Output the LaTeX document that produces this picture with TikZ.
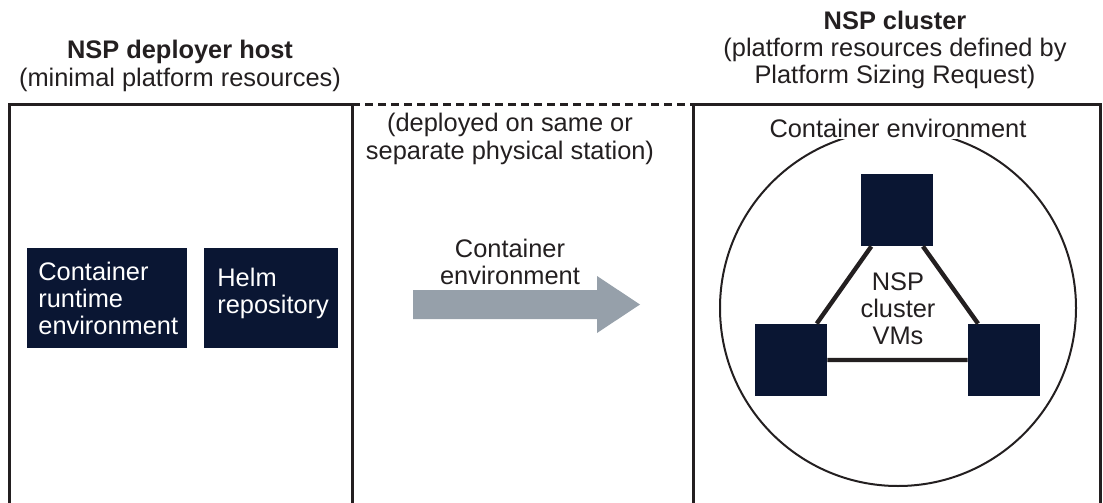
\documentclass[tikz,border=0pt]{standalone}
\usepackage{fontspec}
\setmainfont{Liberation Sans}
\usepackage{tikz}
\usetikzlibrary{positioning}
\usetikzlibrary{shapes}
\definecolor{navy}{HTML}{0A1633}
\definecolor{linegray}{HTML}{231F20}
\definecolor{arrowgray}{HTML}{96A0AA}

\begin{document}
\begin{tikzpicture}
  [x=0.5pt,y=-0.5pt,
  every node/.style={font=\fontsize{12.7}{13.6}\selectfont,text=linegray},
  label/.style={align=center,inner sep=1pt},
  darkbox/.style={rectangle,fill=navy,anchor=north west,align=left,inner xsep=6pt,inner ysep=0pt,minimum height=50pt},
  vm/.style={rectangle,fill=navy,inner sep=0pt,minimum size=36pt},
  frame/.style={linegray,line width=1.5pt}]
  \useasboundingbox (0,0) rectangle (1103,503);

  \node[label] (hosttitle) at (180,66) {\textbf{NSP deployer host}\\(minimal platform resources)};
  \node[label] (clustertitle) at (895,50) {\textbf{NSP cluster}\\(platform resources defined by\\Platform Sizing Request)};

  \draw [frame] (9,510) -- (9,104) -- (352,104) -- (352,510);
  \draw [frame] (693,510) -- (693,104) -- (1100,104) -- (1100,510);
  \draw [frame,dash pattern=on 4pt off 2.5pt] (352,104) -- (693,104);

  \node[darkbox,text width=69pt,inner xsep=5.5pt] (runtime) at (27,248) {\textcolor{white}{Container}\\\textcolor{white}{runtime}\\\textcolor{white}{environment}};
  \node[darkbox,text width=54pt,inner xsep=6.5pt,text depth=21.5pt] (helm) at (204,248) {\textcolor{white}{Helm}\\\textcolor{white}{repository}};

  \node[label] (station) at (510,139) {(deployed on same or\\separate physical station)};
  \node[label] (flowlabel) at (510,262) {Container\\environment};
  \fill [arrowgray] (413,290) -- (597,290) -- (597,276) -- (640,304.5) -- (597,333) -- (597,319) -- (413,319) -- cycle;

  \node[circle,draw=linegray,line width=1pt,minimum size=178pt,inner sep=0pt] (env) at (898,308) {};
  \node[label,fill=white] (envlabel) at (898,128) {Container environment};

  \node[vm] (vmtop) at (897,210) {};
  \node[vm] (vmleft) at (791,360) {};
  \node[vm] (vmright) at (1004,360) {};
  \draw [linegray,line width=2.2pt] (vmtop) -- (vmleft) -- (vmright) -- (vmtop);
  \node[label] (vms) at (898,309) {NSP\\cluster\\VMs};

\end{tikzpicture}
\end{document}
